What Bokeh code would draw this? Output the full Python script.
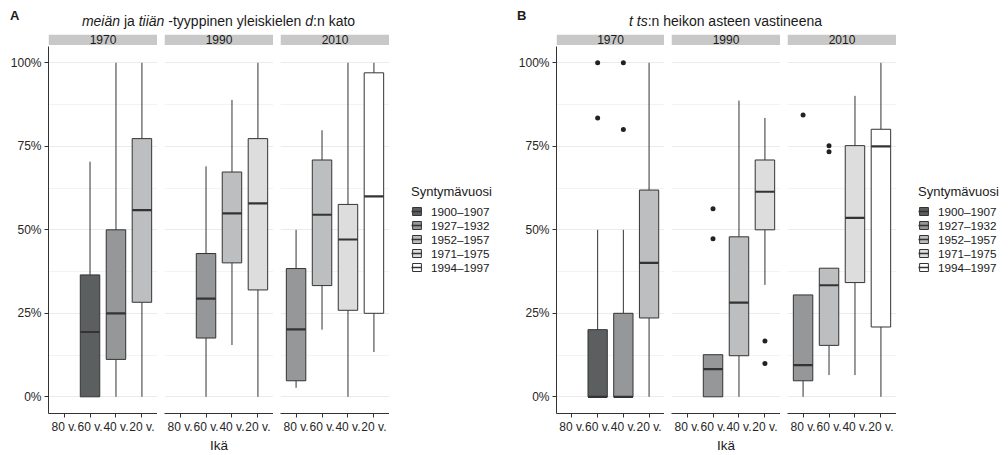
from bokeh.plotting import figure
from bokeh.models import (ColumnDataSource, Range1d, FixedTicker, LinearAxis, NumeralTickFormatter,
                          Grid, Legend, LegendItem, Div)
from bokeh.layouts import row, column
from bokeh.embed import file_html
from bokeh.resources import INLINE
from bokeh.core.properties import value

FONT = "Liberation Sans"

# ---------------- data ----------------
ages = ["80 v.", "60 v.", "40 v.", "20 v."]
years = [1970, 1990, 2010]
cohorts = ["1900–1907", "1927–1932", "1952–1957", "1971–1975", "1994–1997"]
cohort_fill = ["#5c5f60", "#969798", "#bdbebf", "#dcdddc", "#ffffff"]

box_year = [1970, 1970, 1970, 1990, 1990, 1990, 2010, 2010, 2010, 2010]
box_age = ["60 v.", "40 v.", "20 v.", "60 v.", "40 v.", "20 v.", "80 v.", "60 v.", "40 v.", "20 v."]
box_cohort = ["1900–1907", "1927–1932", "1952–1957",
              "1927–1932", "1952–1957", "1971–1975",
              "1927–1932", "1952–1957", "1971–1975", "1994–1997"]

# Panel A: meiän ja tiiän
a_low = [0.0, 0.0, 0.0, 0.0, 0.155, 0.0, 0.027, 0.201, 0.0, 0.134]
a_q1 = [0.0, 0.112, 0.283, 0.176, 0.401, 0.320, 0.048, 0.333, 0.259, 0.25]
a_med = [0.194, 0.25, 0.559, 0.294, 0.549, 0.579, 0.202, 0.545, 0.471, 0.600]
a_q3 = [0.365, 0.50, 0.773, 0.429, 0.673, 0.773, 0.384, 0.709, 0.576, 0.970]
a_high = [0.704, 1.0, 1.0, 0.690, 0.889, 1.0, 0.50, 0.798, 1.0, 1.0]
a_out_year = []
a_out_age = []
a_out_val = []

# Panel B: t ts:n heikon asteen vastineena
b_low = [0.0, 0.0, 0.0, 0.0, 0.0, 0.335, 0.0, 0.065, 0.065, 0.0]
b_q1 = [0.0, 0.0, 0.236, 0.0, 0.123, 0.50, 0.048, 0.154, 0.342, 0.209]
b_med = [0.0, 0.0, 0.401, 0.083, 0.282, 0.614, 0.095, 0.334, 0.536, 0.75]
b_q3 = [0.201, 0.25, 0.619, 0.126, 0.479, 0.709, 0.305, 0.385, 0.752, 0.801]
b_high = [0.50, 0.50, 1.0, 0.126, 0.887, 0.835, 0.305, 0.385, 0.901, 1.0]
b_out_year = [1970, 1970, 1970, 1970, 1990, 1990, 1990, 1990, 2010, 2010, 2010]
b_out_age = ["60 v.", "60 v.", "40 v.", "40 v.", "60 v.", "60 v.", "20 v.", "20 v.", "80 v.", "60 v.", "60 v."]
b_out_val = [1.0, 0.835, 1.0, 0.80, 0.563, 0.473, 0.167, 0.10, 0.844, 0.752, 0.734]

y_ticks = [0, 0.25, 0.5, 0.75, 1.0]
y_minor = [0.125, 0.375, 0.625, 0.875]

# ---------------- layout constants ----------------
PX = 338.4
FRAME_H = 384
BOTTOM = 37
FIG_H = FRAME_H + BOTTOM
GAP_PX = 1
Y_LO, Y_DATA_HI = -0.05, 1.05
Y_HI = Y_LO + FRAME_H / PX
STRIP_LO = Y_DATA_HI + GAP_PX / PX
FRAME_W = 109
X_LO, X_HI = 0.4, 4.6
BOX_W = 0.75
INK = "#333333"
TXT = "#1a1a1a"
HEADER_H = 34


def base_fig(width, left, right, bottom, xr, yr):
    p = figure(width=width, height=FIG_H, x_range=xr, y_range=yr,
               x_axis_location=None, y_axis_location=None,
               toolbar_location=None, output_backend="svg",
               min_border_left=left, min_border_right=right,
               min_border_top=0, min_border_bottom=bottom)
    p.grid.visible = False
    p.outline_line_color = None
    p.background_fill_color = "white"
    p.border_fill_color = "white"
    return p


def facet(year, low, q1, med, q3, high, out_year, out_age, out_val, left, show_y, xlabel):
    p = base_fig(left + FRAME_W, left, 0, BOTTOM, Range1d(X_LO, X_HI), Range1d(Y_LO, Y_HI))

    grid = Grid(dimension=1, ticker=FixedTicker(ticks=y_ticks, minor_ticks=y_minor),
                grid_line_color="#ebebeb", grid_line_width=1,
                minor_grid_line_color="#f3f3f3", minor_grid_line_width=1)
    p.add_layout(grid)

    # facet strip
    p.quad(left=[X_LO], right=[X_HI], bottom=[STRIP_LO], top=[Y_HI],
           fill_color="#c8c8c8", line_color=None)
    p.text(x=[(X_LO + X_HI) / 2], y=[(STRIP_LO + Y_HI) / 2], text=[str(year)],
           text_align="center", text_baseline="middle", text_font=value(FONT),
           text_font_size="12px", text_color=TXT)

    for c, col in zip(cohorts, cohort_fill):
        idx = [i for i in range(len(box_year)) if box_year[i] == year and box_cohort[i] == c]
        if not idx:
            continue
        xs = [ages.index(box_age[i]) + 1 for i in idx]
        src = ColumnDataSource(dict(
            x=xs,
            x0=[x - BOX_W / 2 for x in xs],
            x1=[x + BOX_W / 2 for x in xs],
            lo=[low[i] for i in idx], q1=[q1[i] for i in idx],
            med=[med[i] for i in idx], q3=[q3[i] for i in idx],
            hi=[high[i] for i in idx]))
        p.segment(x0="x", x1="x", y0="q3", y1="hi", source=src, line_color=INK, line_width=1)
        p.segment(x0="x", x1="x", y0="lo", y1="q1", source=src, line_color=INK, line_width=1)
        p.vbar(x="x", width=BOX_W, bottom="q1", top="q3", source=src,
               fill_color=col, line_color=INK, line_width=1)
        p.segment(x0="x0", x1="x1", y0="med", y1="med", source=src,
                  line_color=INK, line_width=2.2)

    oi = [i for i in range(len(out_year)) if out_year[i] == year]
    if oi:
        p.scatter(x=[ages.index(out_age[i]) + 1 for i in oi], y=[out_val[i] for i in oi],
                  size=5, fill_color="#222222", line_color=None)

    xaxis = LinearAxis(ticker=FixedTicker(ticks=[1, 2, 3, 4]),
                       major_label_overrides={i + 1: a for i, a in enumerate(ages)},
                       axis_line_color=INK, axis_line_width=1,
                       major_tick_line_color=INK, major_tick_out=4, major_tick_in=0,
                       minor_tick_line_color=None,
                       major_label_text_font=FONT, major_label_text_font_size="12px",
                       major_label_text_color="#262626", major_label_standoff=2)
    if xlabel:
        xaxis.axis_label = xlabel
        xaxis.axis_label_text_font = FONT
        xaxis.axis_label_text_font_size = "13.5px"
        xaxis.axis_label_text_font_style = "normal"
        xaxis.axis_label_text_color = TXT
        xaxis.axis_label_standoff = 1
    p.add_layout(xaxis, "below")

    if show_y:
        yaxis = LinearAxis(ticker=FixedTicker(ticks=y_ticks),
                           formatter=NumeralTickFormatter(format="0%"),
                           bounds=(Y_LO, Y_DATA_HI),
                           axis_line_color=INK, axis_line_width=1,
                           major_tick_line_color=INK, major_tick_out=4, major_tick_in=0,
                           minor_tick_line_color=None,
                           major_label_text_font=FONT, major_label_text_font_size="12px",
                           major_label_text_color="#262626", major_label_standoff=3)
        p.add_layout(yaxis, "left")
    return p


def legend_fig(width):
    p = base_fig(width, 0, 0, 0, Range1d(0, 1), Range1d(0, 1))
    items = []
    for c, col in zip(cohorts, cohort_fill):
        src = ColumnDataSource(dict(x=[float("nan")], lo=[float("nan")], hi=[float("nan")]))
        box = p.vbar(x="x", width=0.1, bottom="lo", top="hi", source=src,
                     fill_color=col, line_color=INK, line_width=1)
        medr = p.segment(x0="x", x1="x", y0="lo", y1="hi", source=src,
                         line_color=INK, line_width=1.5)
        items.append(LegendItem(label=value(c), renderers=[box, medr]))
    leg = Legend(items=items, location=(22, 139), title="Syntymävuosi",
                 title_text_font=FONT, title_text_font_size="13px",
                 title_text_font_style="normal", title_text_color=TXT, title_standoff=5,
                 label_text_font=FONT, label_text_font_size="11.7px", label_text_color=TXT,
                 glyph_width=11, glyph_height=10, label_standoff=9, label_height=14,
                 spacing=0, padding=0, margin=0,
                 border_line_color=None, background_fill_alpha=0)
    p.add_layout(leg)
    return p


def panel(low, q1, med, q3, high, oy, oa, ov, first_left, leg_w):
    figs = []
    for k, yr in enumerate(years):
        figs.append(facet(yr, low, q1, med, q3, high, oy, oa, ov,
                          left=first_left if k == 0 else 7,
                          show_y=(k == 0),
                          xlabel="Ikä" if k == 1 else None))
    figs.append(legend_fig(leg_w))
    return figs


figs_a = panel(a_low, a_q1, a_med, a_q3, a_high, a_out_year, a_out_age, a_out_val, 48, 126)
figs_b = panel(b_low, b_q1, b_med, b_q3, b_high, b_out_year, b_out_age, b_out_val, 40, 110)


def header(letter, letter_left, title_left, title_html, width):
    html = (
        f'<div style="position:relative;width:{width}px;height:{HEADER_H}px;font-family:\'{FONT}\';color:{TXT};">'
        f'<div style="position:absolute;left:{letter_left}px;top:9px;font-size:13px;line-height:13px;font-weight:bold;">{letter}</div>'
        f'<div style="position:absolute;left:{title_left}px;width:341px;top:13px;font-size:14px;line-height:16px;'
        f'text-align:center;white-space:nowrap;">{title_html}</div></div>'
    )
    return Div(text=html, width=width, height=HEADER_H, margin=(0, 0, 0, 0))


head_a = header("A", 10, 48, "<i>meiän</i> ja <i>tiiän</i> -tyyppinen yleiskielen <i>d</i>:n kato", 515)
head_b = header("B", 2, 40, "<i>t ts</i>:n heikon asteen vastineena", 491)

layout = column(row(head_a, head_b), row(*figs_a, *figs_b))

open("out.html", "w").write(file_html(layout, INLINE))
